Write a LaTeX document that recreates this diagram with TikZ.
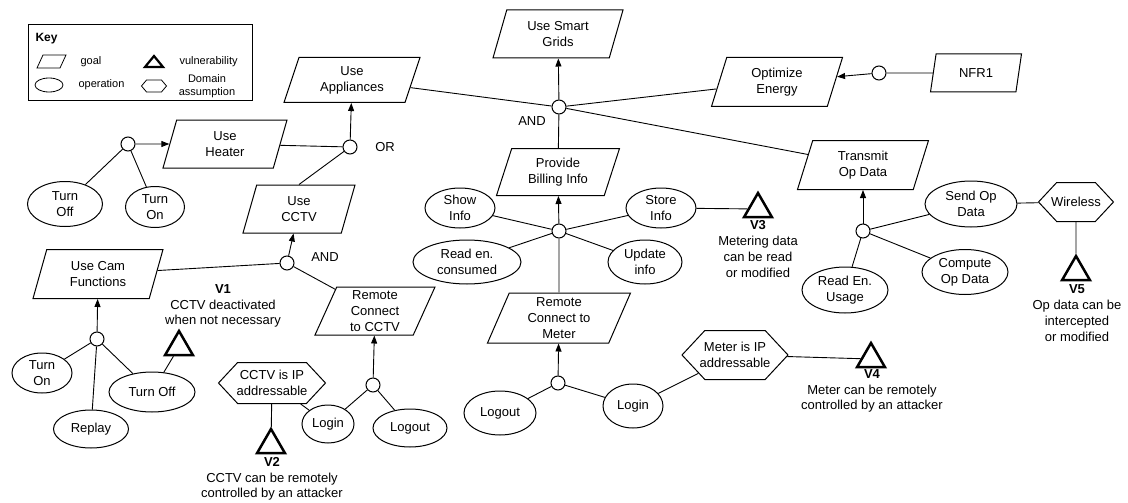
\documentclass[tikz,border=0pt]{standalone}
\usepackage{fontspec}
\setmainfont{Liberation Sans}
\usetikzlibrary{shapes.geometric,shapes.symbols,arrows.meta}

\newcommand\maintext{\fontsize{13}{15.8}\selectfont}
\newcommand\keytext{\fontsize{11}{13}\selectfont}

\begin{document}
\begin{tikzpicture}[x=1pt,y=-1pt,
  font=\maintext,
  goal/.style={draw, line width=1pt, trapezium, trapezium left angle=63,
    trapezium right angle=117, trapezium stretches body, align=center,
    inner sep=1pt},
  op/.style={draw, line width=1pt, ellipse, inner sep=0pt, align=center},
  dom/.style={draw, line width=1pt, signal, signal to=west and east,
    signal pointer angle=94, inner xsep=-6pt, inner ysep=0pt, align=center},
  vuln/.style={draw, regular polygon, regular polygon sides=3,
    minimum size=32pt, inner sep=0pt, line width=2.5pt},
  junc/.style={draw, line width=1pt, circle, minimum size=14pt, inner sep=0pt,
    fill=white},
  vlab/.style={align=center},
  link/.style={line width=0.9pt},
  arr/.style={link, -{Triangle[length=8pt,width=6pt]}}
]
\useasboundingbox (0,0) rectangle (1128,503);

% ---------- legend ----------
\draw[line width=1pt] (28,25) rectangle (252,101);
\node[anchor=west, font=\fontsize{12}{14}\selectfont\bfseries] (keyhead) at (32,39) {Key};
\draw[line width=0.8pt] (37,68) -- (60,68) -- (66,55) -- (43,55) -- cycle;
\node[anchor=west, font=\keytext] (keygoaltxt) at (77,62) {goal};
\draw[line width=2.2pt, line join=miter] (145,67) -- (163,67) -- (154,56) -- cycle;
\node[anchor=west, font=\keytext] (keyvulntxt) at (176,62) {vulnerability};
\node[op, minimum width=28pt, minimum height=14pt, line width=0.8pt] (keyop) at (49,85) {};
\node[anchor=west, font=\keytext] (keyoptxt) at (75,85) {operation};
\node[draw, line width=0.8pt, signal, signal to=west and east, signal pointer angle=100,
  minimum width=25pt, minimum height=12pt, inner sep=0pt] (keydom) at (154,86) {};
\node[align=center, font=\keytext] (keydomtxt) at (207,86) {Domain\\assumption};

% ---------- top level goals ----------
\node[goal, minimum width=130pt, minimum height=48pt] (usg) at (558,34) {Use Smart\\Grids};
\node[goal, minimum width=136pt, minimum height=45pt] (app) at (352,80) {Use\\Appliances};
\node[goal, minimum width=131pt, minimum height=49pt] (opt) at (777,82) {Optimize\\Energy};
\node[goal, minimum width=91pt, minimum height=38pt] (nfr) at (976,73) {NFR1};
\node[goal, minimum width=131pt, minimum height=49pt] (tr) at (863,165) {Transmit\\Op Data};
\node[goal, minimum width=123pt, minimum height=47pt] (pbi) at (558,172) {Provide\\Billing Info};
\node[junc] (andtop) at (559,107) {};
\node (andtoplab) at (532,121) {AND};
\node[junc] (nfrc) at (879,73) {};

\draw[arr] (andtop) -- (usg);
\draw[link] (app) -- (andtop);
\draw[link] (pbi) -- (andtop);
\draw[link] (opt) -- (andtop);
\draw[link] (tr) -- (andtop);
\draw[link] (nfr) -- (nfrc);
\draw[arr] (nfrc) -- (opt);

% ---------- billing ----------
\node[junc] (bc) at (559,231) {};
\node[op, minimum width=70pt, minimum height=40pt] (show) at (460,208) {Show\\Info};
\node[op, minimum width=70pt, minimum height=40pt] (store) at (661,208) {Store\\Info};
\node[op, minimum width=108pt, minimum height=44pt] (readc) at (467,262) {Read en.\\consumed};
\node[op, minimum width=74pt, minimum height=44pt] (upd) at (645,262) {Update\\info};
\node[goal, minimum width=143pt, minimum height=50pt] (rcm) at (559,318) {Remote\\Connect to\\Meter};
\node[vuln] (v3) at (758,209) {};
\node[vlab] (v3lab) at (758,249) {\textbf{V3}\\Metering data\\can be read\\or modified};

\draw[arr] (bc) -- (pbi);
\draw[link] (bc) -- (show);
\draw[link] (bc) -- (store);
\draw[link] (bc) -- (readc);
\draw[link] (bc) -- (upd);
\draw[link] (rcm) -- (bc);
\draw[link] (store) -- (v3);

% ---------- meter access ----------
\node[junc] (mc) at (558,383) {};
\node[op, minimum width=72pt, minimum height=44pt] (mlogout) at (500,413) {Logout};
\node[op, minimum width=60pt, minimum height=44pt] (mlogin) at (633,406) {Login};
\node[dom, minimum width=106pt, minimum height=49pt] (mip) at (735,355) {Meter is IP\\addressable};
\node[vuln] (v4) at (871,359) {};
\node[vlab] (v4lab) at (872,391) {\textbf{V4}\\Meter can be remotely\\controlled by an attacker};

\draw[arr] (mc) -- (rcm);
\draw[link] (mc) -- (mlogout);
\draw[link] (mc) -- (mlogin);
\draw[link] (mlogin) -- (mip);
\draw[link] (mip) -- (v4);

% ---------- operational data ----------
\node[junc] (tc) at (863,231) {};
\node[op, minimum width=92pt, minimum height=46pt] (send) at (971,204) {Send Op\\Data};
\node[op, minimum width=86pt, minimum height=45pt] (comp) at (965,272) {Compute\\Op Data};
\node[op, minimum width=86pt, minimum height=46pt] (reu) at (845,290) {Read En.\\Usage};
\node[dom, minimum width=75pt, minimum height=39pt] (wl) at (1076,202) {Wireless};
\node[vuln] (v5) at (1076,272) {};
\node[vlab] (v5lab) at (1077,313) {\textbf{V5}\\Op data can be\\intercepted\\or modified};

\draw[arr] (tc) -- (tr);
\draw[link] (tc) -- (send);
\draw[link] (tc) -- (comp);
\draw[link] (tc) -- (reu);
\draw[link] (send) -- (wl);
\draw[link] (wl) -- (v5);

% ---------- heater ----------
\node[goal, minimum width=124pt, minimum height=48pt] (heater) at (225,144) {Use\\Heater};
\node[junc] (hc) at (128,144) {};
\node[op, minimum width=75pt, minimum height=45pt] (hoff) at (65,204) {Turn\\Off};
\node[op, minimum width=59pt, minimum height=41pt] (hon) at (155,207) {Turn\\On};
\node[junc] (orc) at (350,147) {};
\node (orlab) at (385,147) {OR};

\draw[arr] (hc) -- (heater);
\draw[link] (hc) -- (hoff);
\draw[link] (hc) -- (hon);
\draw[link] (heater) -- (orc);
\draw[arr] (orc) -- (app);

% ---------- CCTV ----------
\node[goal, minimum width=112pt, minimum height=48pt] (cctv) at (299,209) {Use\\CCTV};
\node[junc] (cc) at (287,263) {};
\node (cclab) at (325,257) {AND};
\node[goal, minimum width=130pt, minimum height=49pt] (cam) at (98,274) {Use Cam\\Functions};
\node[junc] (camc) at (97,339) {};
\node[op, minimum width=60pt, minimum height=40pt] (con) at (42,373) {Turn\\On};
\node[op, minimum width=75pt, minimum height=38pt] (replay) at (91,429) {Replay};
\node[op, minimum width=86pt, minimum height=40pt] (coff) at (152,392) {Turn Off};
\node[vuln] (v1) at (179,347) {};
\node[vlab] (v1lab) at (223,306) {\textbf{V1}\\CCTV deactivated\\when not necessary};
\node[goal, minimum width=120pt, minimum height=48pt] (rcc) at (375,311) {Remote\\Connect\\to CCTV};
\node[junc] (rlc) at (373,385) {};
\node[op, minimum width=52pt, minimum height=38pt] (rlogin) at (328,424) {Login};
\node[op, minimum width=74pt, minimum height=38pt] (rlogout) at (410,428) {Logout};
\node[dom, minimum width=107pt, minimum height=41pt] (cip) at (272,383) {CCTV is IP\\addressable};
\node[vuln] (v2) at (271,445) {};
\node[vlab] (v2lab) at (272,479) {\textbf{V2}\\CCTV can be remotely\\controlled by an attacker};

\draw[link] (cctv.north) -- (orc);
\draw[arr] (cc) -- (cctv);
\draw[link] (cam) -- (cc);
\draw[link] (cc) -- (rcc);
\draw[arr] (camc) -- (cam);
\draw[link] (camc) -- (con);
\draw[link] (camc) -- (replay);
\draw[link] (camc) -- (coff);
\draw[link] (v1) -- (coff);
\draw[arr] (rlc) -- (rcc);
\draw[link] (rlc) -- (rlogin);
\draw[link] (rlc) -- (rlogout);
\draw[link] (cip) -- (rlogin);
\draw[link] (cip) -- (v2);
\end{tikzpicture}
\end{document}
